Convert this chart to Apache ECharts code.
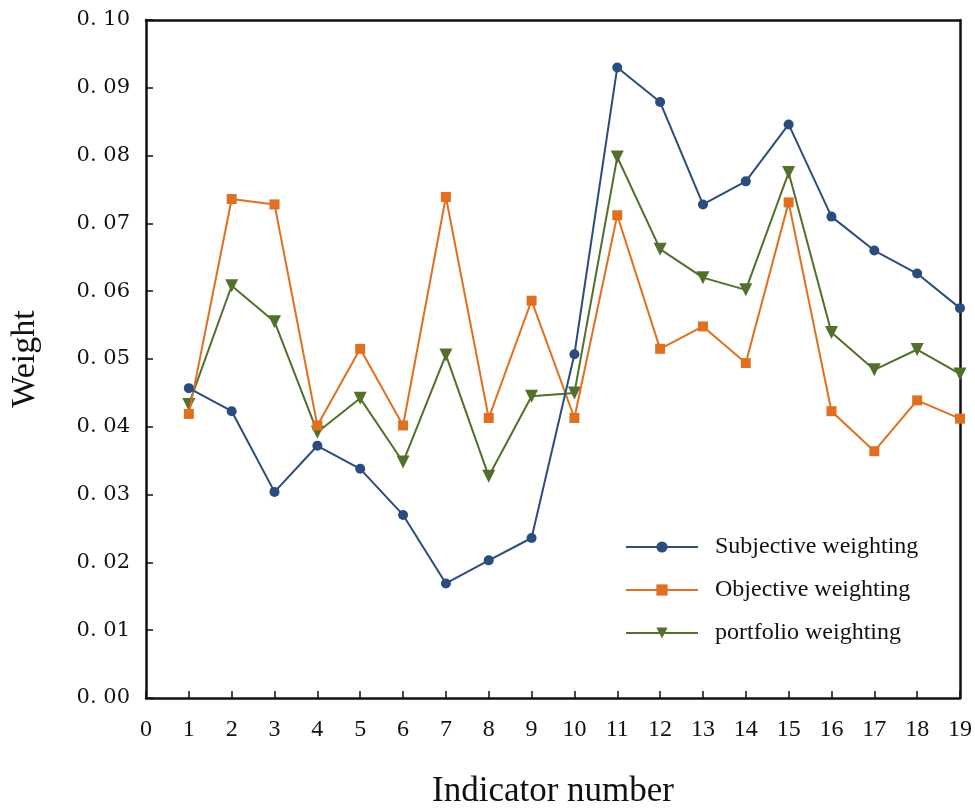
<!DOCTYPE html>
<html>
<head>
<meta charset="utf-8">
<script src="https://cdn.jsdelivr.net/npm/echarts@6/dist/echarts.min.js"></script>
<style>
html,body{margin:0;padding:0;background:#fff;}
#chart{width:975px;height:808px;}
</style>
</head>
<body>
<div id="chart"></div>
<script>
const indicators = [1,2,3,4,5,6,7,8,9,10,11,12,13,14,15,16,17,18,19];
const subjective = [0.0457,0.0423,0.0304,0.0372,0.0338,0.0270,0.0169,0.0203,0.0236,0.0507,0.0930,0.0879,0.0728,0.0762,0.0846,0.0710,0.0660,0.0626,0.0575];
const objective  = [0.0419,0.0736,0.0728,0.0402,0.0515,0.0402,0.0739,0.0413,0.0586,0.0413,0.0712,0.0515,0.0548,0.0494,0.0731,0.0423,0.0364,0.0439,0.0412];
const portfolio  = [0.0433,0.0608,0.0555,0.0392,0.0442,0.0348,0.0506,0.0327,0.0445,0.0450,0.0798,0.0662,0.0620,0.0602,0.0775,0.0539,0.0484,0.0514,0.0478];
const seriesNames = ['Subjective weighting','Objective weighting','portfolio weighting'];
const yTickLabels = ['0. 00','0. 01','0. 02','0. 03','0. 04','0. 05','0. 06','0. 07','0. 08','0. 09','0. 10'];

const colors = ['#2B4C7E','#E0701F','#52702C'];
const symbols = ['circle','rect','triangle'];
const datasets = [subjective, objective, portfolio];

const chart = echarts.init(document.getElementById('chart'), null, {renderer:'canvas'});
const serif = 'Liberation Serif';
const series = datasets.map((arr, i) => ({
  name: seriesNames[i],
  type: 'line',
  data: indicators.map((x, j) => [x, arr[j]]),
  symbol: symbols[i],
  symbolSize: i === 2 ? 13 : 10,
  symbolRotate: i === 2 ? 180 : 0,
  lineStyle: {color: colors[i], width: 2},
  itemStyle: {color: colors[i]},
  z: 3 - i
}));

chart.setOption({
  animation: false,
  backgroundColor: '#fff',
  grid: {left: 146, right: 15, top: 20, bottom: 110, containLabel: false, outerBoundsMode: 'none'},
  legend: {
    orient: 'vertical',
    left: 625,
    top: 535,
    padding: 0,
    itemWidth: 72,
    itemHeight: 14,
    itemGap: 19,
    data: seriesNames,
    lineStyle: {width: 2},
    textStyle: {fontFamily: serif, fontSize: 24, color: '#111', lineHeight: 24, padding: [0,0,0,12]},
  },
  xAxis: [{
    type: 'value', min: 0, max: 19, interval: 1,
    name: 'Indicator number', nameLocation: 'middle', nameGap: 76,
    nameTextStyle: {fontFamily: serif, fontSize: 35, color: '#111'},
    axisLine: {show: true, onZero: false, lineStyle: {color: '#111', width: 2.5}},
    axisTick: {show: true, inside: true, length: 7, lineStyle: {color: '#111', width: 1.5}},
    axisLabel: {fontFamily: serif, fontSize: 24, color: '#111', margin: 20},
    splitLine: {show: false}
  },{
    type: 'value', min: 0, max: 19, position: 'top',
    axisLine: {show: true, onZero: false, lineStyle: {color: '#111', width: 2.5}},
    axisTick: {show: false}, axisLabel: {show: false}, splitLine: {show: false}
  }],
  yAxis: [{
    type: 'value', min: 0, max: 0.10, interval: 0.01,
    name: 'Weight', nameLocation: 'middle', nameGap: 104, nameRotate: 90,
    nameTextStyle: {fontFamily: serif, fontSize: 34, color: '#111'},
    axisLine: {show: true, onZero: false, lineStyle: {color: '#111', width: 2.5}},
    axisTick: {show: true, inside: true, length: 7, lineStyle: {color: '#111', width: 1.5}},
    axisLabel: {fontFamily: 'DejaVu Serif', fontSize: 21, color: '#111', margin: 16,
      formatter: (v) => yTickLabels[Math.round(v * 100)]},
    splitLine: {show: false}
  },{
    type: 'value', min: 0, max: 0.10, position: 'right',
    axisLine: {show: true, onZero: false, lineStyle: {color: '#111', width: 2.5}},
    axisTick: {show: false}, axisLabel: {show: false}, splitLine: {show: false}
  }],
  series: series
});
</script>
</body>
</html>
